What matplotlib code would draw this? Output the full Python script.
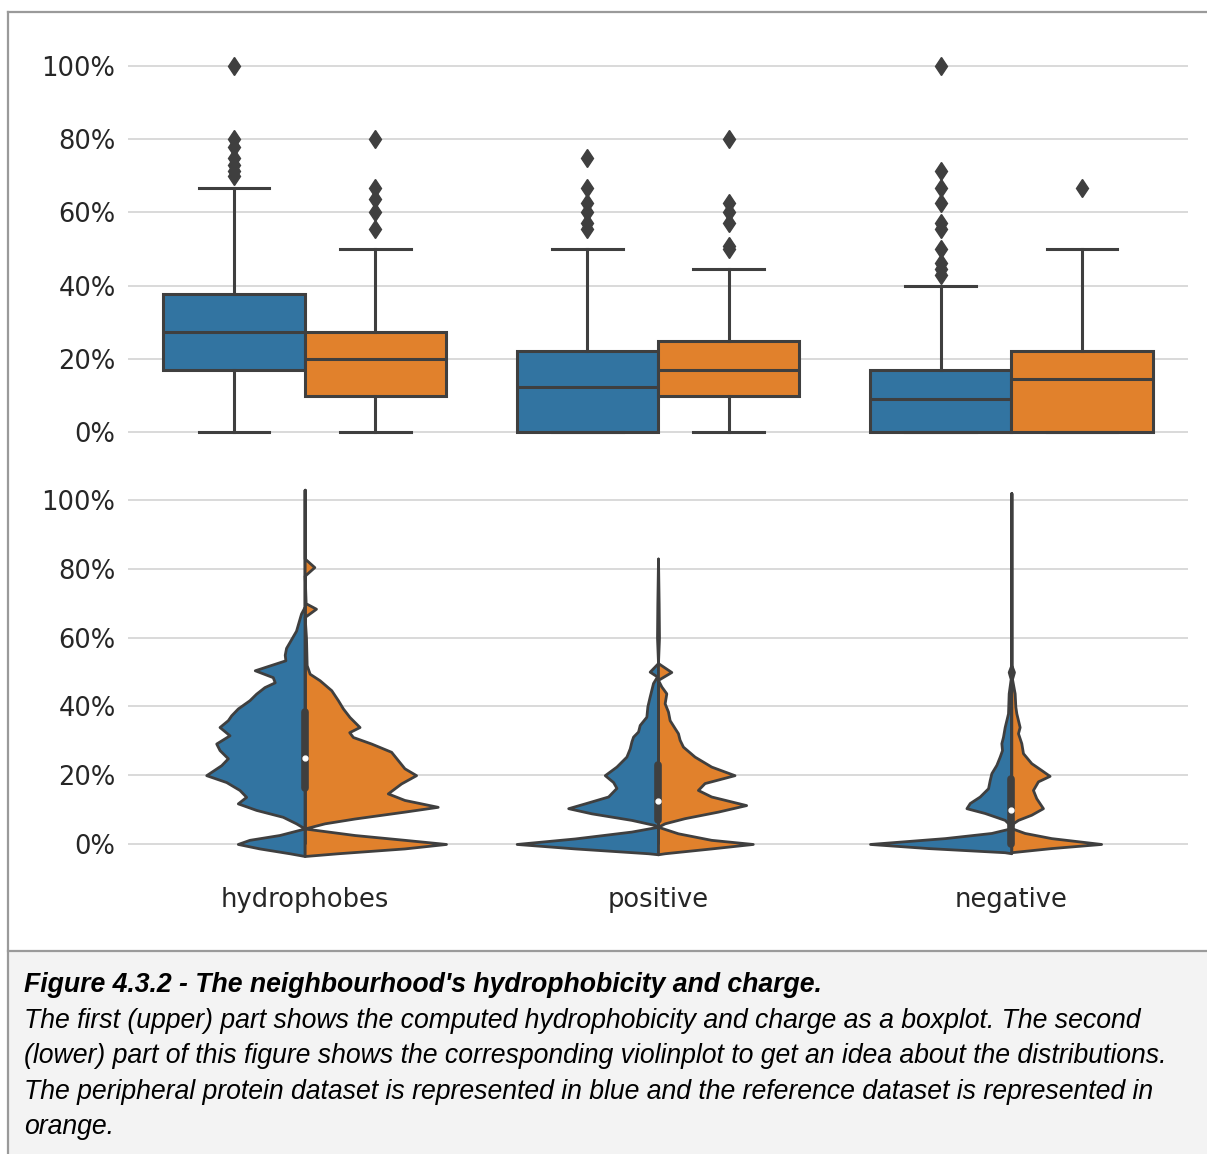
import numpy as np
import matplotlib
matplotlib.use("Agg")
import matplotlib.pyplot as plt
from matplotlib.ticker import PercentFormatter
from matplotlib.patches import Rectangle

# categories and hue order (peripheral = blue, reference = orange)
categories = ["hydrophobes", "positive", "negative"]
hue_colors = ["#3274a1", "#e1812c"]
line_color = "#3f3f3f"

# boxplot statistics in percent: [peripheral, reference] per category
box_q1 = [[16.9, 9.8], [0.0, 9.8], [0.0, 0.0]]
box_med = [[27.3, 20.0], [12.4, 17.0], [9.1, 14.4]]
box_q3 = [[37.7, 27.3], [22.2, 25.0], [17.0, 22.2]]
box_whislo = [[0.0, 0.0], [0.0, 0.0], [0.0, 0.0]]
box_whishi = [[66.7, 50.0], [50.0, 44.4], [40.0, 50.0]]
box_fliers = [
    [[100, 80, 78, 75, 73, 71.4, 70], [80, 66.7, 63.6, 60, 55.6]],
    [[75, 66.7, 62.5, 60, 57.1, 55.6], [80, 62.5, 60, 57.1, 50.7, 50]],
    [[100, 71.4, 66.7, 62.5, 57.1, 55.6, 50, 46.2, 44.4, 42.9], [66.7]],
]

# violin outlines: levels (percent) and relative density
hyd_blue_y = [103, 69, 67, 62, 57, 55, 53.4, 50.5, 48.5, 47, 45.6, 43.7, 41.8, 39.4, 37.4, 36,
              34, 31.6, 29.2, 27.3, 24.9, 22.9, 20, 18, 15.7, 13.7, 11.8, 9.9, 7.9, 6, 4.5,
              2.6, 1.2, 0, -1.3, -2.7, -3.5]
hyd_blue_d = [0, 0, 11, 26, 56, 60, 58, 150, 96, 90, 121, 146, 166, 201, 221, 231,
              256, 226, 266, 256, 231, 251, 296, 236, 196, 176, 201, 146, 66, 26, 0,
              76, 166, 201, 136, 46, 0]
hyd_orange_y = [103, 83, 80.5, 78, 70, 68.4, 66, 60, 52, 49.5, 47.6, 44.7, 41.8, 39.4, 36.9, 34,
                32.5, 31.1, 29.2, 26.8, 24.4, 22, 20, 17.6, 14.7, 12.8, 10.8, 9.4, 7.4, 6, 4.5,
                2.6, 1.2, 0, -1.3, -2.7, -3.5]
hyd_orange_d = [0, 0, 29, 0, 3, 34, 0, 4, 6, 15, 45, 80, 100, 115, 135, 165,
                134, 145, 200, 260, 280, 300, 335, 290, 250, 300, 400, 300, 150, 60, 0,
                150, 300, 425, 300, 100, 0]

pos_blue_y = [83, 70, 60, 52.6, 50.1, 48.7, 46.8, 42.9, 40, 37, 34.6, 32.7, 31.2, 29.8, 27.8,
              25.4, 22.5, 20, 18, 16.3, 13.8, 11.8, 10.4, 8.9, 7, 5.5, 5, 3.6, 1.6, 0,
              -1.3, -2.7, -3]
pos_blue_d = [0, 2, 3, 0, 25, 3, 15, 25, 32, 35, 55, 60, 75, 80, 85,
              95, 125, 160, 135, 125, 150, 220, 270, 200, 80, 10, 0, 80, 250, 425,
              250, 30, 0]
pos_orange_y = [83, 70, 60, 52.6, 50, 47.7, 45.8, 43.8, 40.9, 38.5, 36, 33.7, 32.2, 30.3, 28.3,
                25.4, 22.5, 20, 17.7, 15.7, 13.8, 11.3, 9.4, 7.5, 6, 5, 3.1, 1.2, 0,
                -1.3, -2.7, -3]
pos_orange_d = [0, 2, 3, 0, 40, 0, 10, 25, 20, 30, 35, 50, 60, 65, 75,
                110, 160, 230, 140, 120, 160, 265, 180, 80, 20, 0, 60, 160, 285,
                160, 20, 0]

neg_blue_y = [102, 52, 50, 48, 43.8, 38, 34, 31.2, 29.3, 27.3, 25.4, 23, 20.6, 18.6, 16.2,
              13.8, 11.9, 10.4, 9, 7, 5.6, 4.6, 3.2, 1.7, 0, -1.2, -2.4, -2.7]
neg_blue_d = [0, 0, 8, 2, 8, 10, 20, 25, 30, 28, 35, 45, 60, 65, 70,
              95, 125, 135, 80, 20, 5, 0, 60, 200, 425, 250, 20, 0]
neg_orange_y = [102, 52, 50, 48, 43.8, 40, 38, 34, 32.2, 29.3, 26.4, 23.5, 21.5, 19.8, 18.2,
                15.7, 13.3, 10.4, 8.5, 7, 6, 4.6, 3.2, 1.7, 0, -1.2, -2.4]
neg_orange_d = [0, 0, 8, 2, 10, 12, 15, 25, 20, 30, 35, 60, 90, 115, 80,
                65, 75, 95, 60, 20, 5, 0, 40, 120, 270, 120, 0]

violin_y = [[hyd_blue_y, hyd_orange_y], [pos_blue_y, pos_orange_y], [neg_blue_y, neg_orange_y]]
violin_d = [[hyd_blue_d, hyd_orange_d], [pos_blue_d, pos_orange_d], [neg_blue_d, neg_orange_d]]

# inner box of the split violins (both datasets pooled)
inner_q1 = [16.2, 7.0, 0.0]
inner_med = [25.0, 12.5, 10.0]
inner_q3 = [38.4, 23.0, 19.0]
inner_whishi = [71.0, 47.0, 47.0]

yticks = [0, 20, 40, 60, 80, 100]

caption_title = "Figure 4.3.2 - The neighbourhood's hydrophobicity and charge."
caption_lines = [
    "The first (upper) part shows the computed hydrophobicity and charge as a boxplot. The second",
    "(lower) part of this figure shows the corresponding violinplot to get an idea about the distributions.",
    "The peripheral protein dataset is represented in blue and the reference dataset is represented in",
    "orange.",
]

W, H = 1207, 1154
fig = plt.figure(figsize=(W / 100, H / 100), dpi=100)

# frame and caption background, drawn in pixel coordinates
bg = fig.add_axes([0, 0, 1, 1], zorder=-1)
bg.set_xlim(0, W)
bg.set_ylim(H, 0)
bg.axis("off")
bg.add_patch(Rectangle((9, 951), W - 9, H - 951, facecolor="#f3f3f3", edgecolor="none"))
bg.plot([8, W], [12, 12], color="#9a9a9a", lw=1.6)
bg.plot([8, 8], [12, H], color="#9a9a9a", lw=1.6)
bg.plot([8, W], [951, 951], color="#9a9a9a", lw=1.6)

ax_box = fig.add_axes([128 / W, 1 - 450.3 / H, 1060 / W, 402.6 / H], facecolor="none")
ax_vio = fig.add_axes([128 / W, 1 - 864.6 / H, 1060 / W, 385.2 / H], facecolor="none")

hue_offsets = [-0.2, 0.2]

# --- upper panel: boxplots
for i in range(len(categories)):
    for j in range(2):
        stats = [{
            "med": box_med[i][j], "q1": box_q1[i][j], "q3": box_q3[i][j],
            "whislo": box_whislo[i][j], "whishi": box_whishi[i][j],
            "fliers": box_fliers[i][j],
        }]
        ax_box.bxp(stats, positions=[i + hue_offsets[j]], widths=0.4,
                   patch_artist=True, manage_ticks=False,
                   boxprops=dict(facecolor=hue_colors[j], edgecolor=line_color, linewidth=2.2),
                   medianprops=dict(color=line_color, linewidth=2.2),
                   whiskerprops=dict(color=line_color, linewidth=2.2),
                   capprops=dict(color=line_color, linewidth=2.2),
                   flierprops=dict(marker="d", markerfacecolor=line_color,
                                   markeredgecolor=line_color, markersize=9.5))

# --- lower panel: split violins
dmax = max(max(d) for pair in violin_d for d in pair)
scale = 0.4 / dmax
for i in range(len(categories)):
    for j in range(2):
        y = np.array(violin_y[i][j], dtype=float)
        w = np.array(violin_d[i][j], dtype=float) * scale
        if j == 0:
            ax_vio.fill_betweenx(y, i - w, i, facecolor=hue_colors[j],
                                 edgecolor=line_color, linewidth=2, zorder=2)
        else:
            ax_vio.fill_betweenx(y, i, i + w, facecolor=hue_colors[j],
                                 edgecolor=line_color, linewidth=2, zorder=2)
    ax_vio.plot([i, i], [0, inner_whishi[i]], color=line_color, lw=2, zorder=3,
                solid_capstyle="butt")
    ax_vio.plot([i, i], [inner_q1[i], inner_q3[i]], color=line_color, lw=5.5, zorder=3,
                solid_capstyle="round")
    ax_vio.plot([i], [inner_med[i]], marker="o", color="white", markersize=3.5, zorder=4)

for ax, ylo, yhi in [(ax_box, -5, 105), (ax_vio, -6, 106)]:
    ax.set_xlim(-0.5, 2.5)
    ax.set_ylim(ylo, yhi)
    ax.set_yticks(yticks)
    ax.yaxis.set_major_formatter(PercentFormatter(xmax=100, decimals=0))
    ax.grid(axis="y", color="#d3d3d3", lw=1.2, zorder=0)
    ax.set_axisbelow(True)
    for s in ax.spines.values():
        s.set_visible(False)
    ax.tick_params(length=0, labelsize=18.5, labelcolor="#262626", pad=9)

ax_box.set_xticks([])
ax_vio.set_xticks(range(len(categories)))
ax_vio.set_xticklabels(categories)
ax_vio.tick_params(axis="x", pad=16)

# caption
fig.text(24 / W, 1 - 992 / H, caption_title, family="Liberation Sans", style="italic",
         weight="bold", size=19.2, color="black", va="baseline")
for k, line in enumerate(caption_lines):
    fig.text(24 / W, 1 - (1028 + 35.3 * k) / H, line, family="Liberation Sans",
             style="italic", size=19.2, color="black", va="baseline")

fig.savefig("out.png", dpi=100)
